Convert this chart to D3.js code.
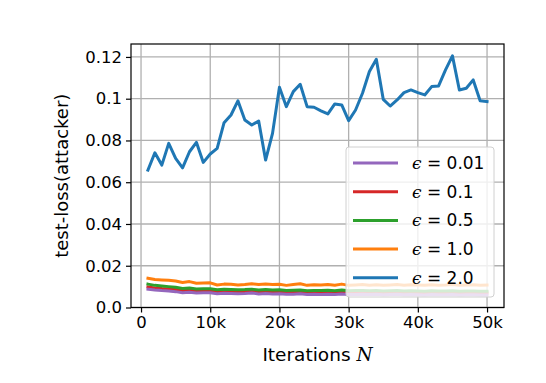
<!DOCTYPE html>
<html>
<head>
<meta charset="utf-8">
<script src="https://cdn.jsdelivr.net/npm/d3@7"></script>
<style>
  body { margin: 0; background: #fff; }
  text { font-family: "DejaVu Sans", sans-serif; }
</style>
</head>
<body>
<div class="chart"></div>
<script>
// iterations (in thousands)
const iterations = d3.range(1, 51).map((k) => k * 1000);

const epsLabels = ["0.01", "0.1", "0.5", "1.0", "2.0"];
const colors = ["#9467bd", "#d62728", "#2ca02c", "#ff7f0e", "#1f77b4"];

const loss001 = [0.0088,0.0084,0.0081,0.0079,0.0076,0.0071,0.0073,0.0070,0.0071,0.0071,0.0066,0.0068,0.0067,0.0066,0.0067,0.0069,0.0065,0.0067,0.0065,0.0066,0.0063,0.0064,0.0066,0.0062,0.0063,0.0062,0.0064,0.0062,0.0065,0.0062,0.0062,0.0063,0.0062,0.0063,0.0061,0.0062,0.0063,0.0061,0.0062,0.0061,0.0060,0.0062,0.0061,0.0061,0.0062,0.0060,0.0061,0.0061,0.0060,0.0060];
const loss01 = [0.0098,0.0094,0.0091,0.0089,0.0086,0.0081,0.0083,0.0080,0.0081,0.0080,0.0076,0.0078,0.0077,0.0076,0.0077,0.0079,0.0075,0.0077,0.0075,0.0076,0.0072,0.0074,0.0075,0.0071,0.0073,0.0072,0.0074,0.0071,0.0075,0.0071,0.0072,0.0073,0.0071,0.0072,0.0070,0.0071,0.0072,0.0070,0.0071,0.0070,0.0069,0.0071,0.0070,0.0070,0.0071,0.0069,0.0070,0.0070,0.0069,0.0069];
const loss05 = [0.0112,0.0106,0.0103,0.0100,0.0097,0.0091,0.0093,0.0089,0.0090,0.0090,0.0085,0.0087,0.0086,0.0085,0.0086,0.0088,0.0084,0.0086,0.0084,0.0085,0.0081,0.0083,0.0084,0.0080,0.0082,0.0081,0.0083,0.0080,0.0084,0.0080,0.0081,0.0082,0.0080,0.0081,0.0079,0.0080,0.0081,0.0079,0.0080,0.0079,0.0078,0.0080,0.0079,0.0079,0.0080,0.0078,0.0079,0.0079,0.0078,0.0078];
const loss10 = [0.0140,0.0134,0.0132,0.0130,0.0127,0.0120,0.0124,0.0116,0.0117,0.0118,0.0108,0.0112,0.0111,0.0108,0.0110,0.0114,0.0110,0.0112,0.0110,0.0111,0.0106,0.0110,0.0114,0.0106,0.0109,0.0108,0.0110,0.0107,0.0112,0.0106,0.0108,0.0110,0.0107,0.0109,0.0106,0.0108,0.0110,0.0107,0.0109,0.0108,0.0106,0.0109,0.0107,0.0108,0.0110,0.0107,0.0108,0.0109,0.0107,0.0108];
const loss20 = [0.0658,0.0741,0.0682,0.0786,0.0714,0.0669,0.0746,0.0791,0.0695,0.0735,0.0762,0.0885,0.0922,0.0990,0.0898,0.0874,0.0893,0.0706,0.0834,0.1055,0.0962,0.1034,0.1069,0.0962,0.0959,0.0942,0.0927,0.0975,0.0970,0.0895,0.0946,0.1026,0.1130,0.1189,0.0997,0.0965,0.0994,0.1029,0.1042,0.1029,0.1018,0.1058,0.1061,0.1138,0.1205,0.1042,0.1050,0.1090,0.0990,0.0986];

const xTicks = [0, 10000, 20000, 30000, 40000, 50000];
const xTickLabels = ["0", "10k", "20k", "30k", "40k", "50k"];
const yTicks = [0, 0.02, 0.04, 0.06, 0.08, 0.1, 0.12];
const yTickLabels = ["0.0", "0.02", "0.04", "0.06", "0.08", "0.1", "0.12"];

const series = [loss01, loss001, loss05, loss10, loss20];
const seriesIdx = [1, 0, 2, 3, 4]; // draw order

const W = 546, H = 383;
const margin = { top: 44, right: 42, bottom: 75.5, left: 131 };
const width = W - margin.left - margin.right,
  height = H - margin.top - margin.bottom;

const svg = d3.select(".chart").append("svg")
  .attr("width", W).attr("height", H)
  .append("g")
  .attr("transform", `translate(${margin.left}, ${margin.top})`);

const x = d3.scaleLinear().domain([-1450, 52450]).range([0, width]);
const y = d3.scaleLinear().domain([0, 0.1262]).range([height, 0]);

// grid
svg.append("g").selectAll("line").data(xTicks).join("line")
  .attr("x1", (d) => x(d)).attr("x2", (d) => x(d))
  .attr("y1", 0).attr("y2", height)
  .attr("stroke", "#b0b0b0").attr("stroke-width", 1.3);
svg.append("g").selectAll("line").data(yTicks).join("line")
  .attr("y1", (d) => y(d)).attr("y2", (d) => y(d))
  .attr("x1", 0).attr("x2", width)
  .attr("stroke", "#b0b0b0").attr("stroke-width", 1.3);

// lines
const line = d3.line().x((d, i) => x(iterations[i])).y((d) => y(d));
seriesIdx.forEach((si, j) => {
  svg.append("path")
    .datum(series[j])
    .attr("fill", "none")
    .attr("stroke", colors[si])
    .attr("stroke-width", 3)
    .attr("stroke-linejoin", "round")
    .attr("stroke-linecap", "square")
    .attr("d", line);
});

// axes
const xAxis = svg.append("g")
  .attr("transform", `translate(0, ${height})`)
  .call(d3.axisBottom(x).tickValues(xTicks).tickFormat((d, i) => xTickLabels[i]).tickSize(5).tickPadding(4));
const yAxis = svg.append("g")
  .call(d3.axisLeft(y).tickValues(yTicks).tickFormat((d, i) => yTickLabels[i]).tickSize(5).tickPadding(4));
[xAxis, yAxis].forEach((a) => {
  a.select(".domain").remove();
  a.selectAll(".tick line").attr("stroke", "#000").attr("stroke-width", 1.2);
  a.selectAll(".tick text").attr("fill", "#000")
    .style("font-family", "DejaVu Sans").style("font-size", "16.5px");
});

// frame
svg.append("rect")
  .attr("width", width).attr("height", height)
  .attr("fill", "none").attr("stroke", "#000").attr("stroke-width", 1.2);

// axis titles
svg.append("text")
  .attr("x", width / 2).attr("y", height + 53)
  .attr("text-anchor", "middle")
  .style("font-size", "18.5px")
  .html('Iterations <tspan font-family="DejaVu Serif" font-style="italic">N</tspan>');
svg.append("text")
  .attr("transform", `translate(${-63}, ${height / 2}) rotate(-90)`)
  .attr("text-anchor", "middle")
  .style("font-size", "18px")
  .text("test-loss(attacker)");

// legend
const lg = svg.append("g").attr("transform", `translate(${346 - margin.left}, ${147 - margin.top})`);
lg.append("rect")
  .attr("width", 148).attr("height", 150).attr("rx", 3)
  .attr("fill", "#fff").attr("fill-opacity", 0.8)
  .attr("stroke", "#d0d0d0").attr("stroke-width", 1);
epsLabels.forEach((lab, i) => {
  const cy = 16 + i * 28.7;
  lg.append("line")
    .attr("x1", 7).attr("x2", 52).attr("y1", cy).attr("y2", cy)
    .attr("stroke", colors[i]).attr("stroke-width", 3);
  lg.append("text")
    .attr("x", 66).attr("y", cy + 6)
    .style("font-size", "17px")
    .html(`<tspan font-family="DejaVu Serif" font-style="italic">ϵ</tspan> = ${lab}`);
});
</script>
</body>
</html>
